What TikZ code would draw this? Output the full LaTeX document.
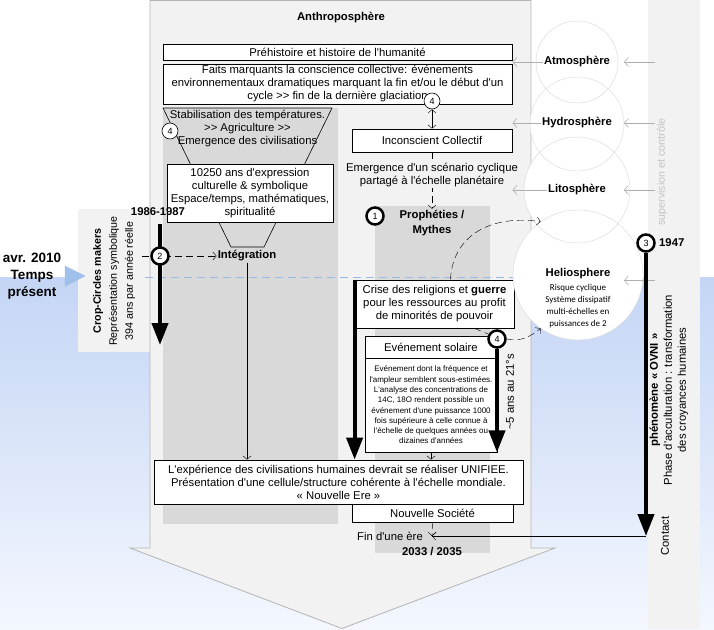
\documentclass[tikz,border=0pt]{standalone}
\usepackage{fontspec}
\setmainfont[Ligatures=TeXOff]{Liberation Sans}
\newfontfamily\calibfont{Carlito}
\usetikzlibrary{arrows.meta}
\definecolor{arrowgrey}{RGB}{242,242,242}
\definecolor{panelgrey}{RGB}{217,217,217}
\definecolor{edgegrey}{RGB}{180,180,180}
\definecolor{ringgrey}{RGB}{215,215,215}
\definecolor{feedgrey}{RGB}{175,175,175}
\definecolor{supvgrey}{RGB}{195,195,195}
\definecolor{skyblue}{RGB}{196,213,245}
\definecolor{paleblue}{RGB}{244,247,254}
\definecolor{presentblue}{RGB}{150,185,230}
\definecolor{nowblue}{RGB}{160,192,236}
\begin{document}
\begin{tikzpicture}[x=1pt,y=-1pt,
  every node/.style={font=\fontsize{11.3}{13}\selectfont,inner sep=1pt},
  txtbox/.style={draw,fill=white,align=center,inner sep=0pt,line width=0.8pt},
  boldlbl/.style={font=\fontsize{11.3}{15.5}\selectfont\bfseries,align=center},
  thinnum/.style={circle,draw,fill=white,inner sep=0pt,minimum size=16pt,line width=0.6pt,font=\fontsize{9}{9}\selectfont},
  thicknum/.style={circle,draw,fill=white,inner sep=0pt,minimum size=17pt,line width=2.5pt,font=\fontsize{9}{9}\selectfont},
  sphere/.style={circle,fill=white,inner sep=0pt},
  thintip/.style={-{Straight Barb[length=3.5pt,width=8pt]}},
  bigarr/.style={line width=4pt,-{Triangle[length=22pt,width=16pt]}},
  feed/.style={draw=feedgrey,line width=0.6pt,-{Straight Barb[length=4pt,width=9pt]}},
  dashy/.style={dashed,dash pattern=on 7pt off 4pt}
]
\useasboundingbox (0,0) rectangle (714,629);
\shade[top color=skyblue,bottom color=paleblue] (0,277) rectangle (714,629);
\node[fill=arrowgrey,minimum width=52pt,minimum height=629pt,inner sep=0pt] (supv) at (674,314.5) {};
\node[fill=arrowgrey,minimum width=72pt,minimum height=143pt,inner sep=0pt] (croppanel) at (114,280.5) {};
\filldraw[fill=arrowgrey,draw=edgegrey,line width=0.8pt] (150,0.5) -- (531,0.5) -- (531,548) -- (555,548) -- (342,628.5) -- (130,548) -- (150,548) -- cycle;
\fill[panelgrey] (163,108) rectangle (338,524);
\fill[panelgrey] (375,206) rectangle (490,553);
\coordinate (nowL) at (145,277);
\coordinate (nowR) at (520,277);
\draw[presentblue,dashed,dash pattern=on 8pt off 5pt] (nowL) -- (nowR);

\node[boldlbl] (anthro) at (341,18) {Anthroposphère};
\node[txtbox,minimum width=349pt,minimum height=16pt] (prehist) at (337.5,52) {Préhistoire et histoire de l'humanité};
\node[txtbox,minimum width=349pt,minimum height=40pt] (faits) at (337.5,84) {Faits marquants la conscience collective: événements\\environnementaux dramatiques marquant la fin et/ou le début d'un\\cycle >> fin de la dernière glaciation};
\draw[line width=0.6pt] (163,108) -- (332,108) -- (264,247) -- (231,247) -- cycle;
\node[align=center] (stabil) at (247.5,129) {Stabilisation des températures.\\>> Agriculture >>\\Emergence des civilisations};
\node[thinnum] (fourL) at (170,131) {4};
\node[txtbox,minimum width=166pt,minimum height=58pt] (expr) at (250,193) {10250 ans d'expression\\culturelle \& symbolique\\Espace/temps,  mathématiques,\\spiritualité};
\node[boldlbl] (integ) at (247,256) {Intégration};
\node[txtbox,minimum width=369pt,minimum height=44pt] (expbox) at (338.5,482) {L'expérience des civilisations humaines devrait se réaliser UNIFIEE.\\Présentation d'une cellule/structure cohérente à l'échelle mondiale.\\« Nouvelle Ere »};
\node[txtbox,minimum width=161pt,minimum height=18pt] (nouv) at (432.5,513) {Nouvelle Société};
\draw[thintip] (integ.south) -- (integ.south |- expbox.north);

\node[boldlbl] (y1986) at (158,212) {1986-1987};
\coordinate (ccTop) at (160,224);
\coordinate (ccEnd) at (160,345);
\draw[bigarr] (ccTop) -- (ccEnd);
\coordinate (twoL) at (142,256);
\draw[dashy,thintip] (twoL) -- (integ.west);
\node[thicknum] (two) at (160,256) {2};
\node[rotate=90,align=center,font=\fontsize{10.7}{16}\selectfont] (croptxt) at (114,281) {\textbf{Crop-Circles makers}\\Représentation symbolique\\394 ans par année réelle};
\node[align=center,font=\fontsize{13.5}{17}\selectfont\bfseries] (present) at (32,276) {avr. 2010\\Temps\\présent};
\filldraw[fill=nowblue,draw=presentblue] (65,266) -- (85,276) -- (65,286) -- cycle;

\node[txtbox,minimum width=160pt,minimum height=23pt] (incon) at (432,140.5) {Inconscient Collectif};
\node[thinnum] (fourT) at (432,101) {4};
\draw[{Straight Barb[length=3.5pt,width=8pt]}-{Straight Barb[length=3.5pt,width=8pt]}] (fourT.south) -- (incon.north);
\node[boldlbl] (proph) at (432,223) {Prophéties /\\Mythes};
\draw[dashy,thintip] (incon.south) -- (proph.north);
\node[align=center,fill=arrowgrey] (emerg) at (432,175) {Emergence d'un scénario cyclique\\partagé à l'échelle planétaire};
\node[thicknum] (one) at (375,216) {1};

\node[txtbox,minimum width=159pt,minimum height=48pt] (crise) at (434.5,304) {Crise des religions et \textbf{guerre}\\pour les ressources au profit\\de minorités de pouvoir};
\draw[bigarr] (crise.north west) -- (crise.north west |- expbox.north);
\node[txtbox,minimum width=132pt,minimum height=22pt] (solhead) at (431,347) {Evénement solaire};
\node[txtbox,minimum width=132pt,minimum height=94pt,font=\fontsize{8}{10.3}\selectfont] (solbody) at (431,405) {Evénement dont la fréquence et\\l'ampleur semblent sous-estimées.\\L'analyse des concentrations de\\14C, 18O rendent possible un\\événement d'une puissance 1000\\fois supérieure à celle connue à\\l'échelle de quelques années ou\\dizaines d'années};
\draw[thintip] (solbody.south) -- (solbody.south |- expbox.north);
\node[thicknum] (fourR) at (497,339) {4};
\draw[bigarr] (fourR.south) -- (fourR |- solbody.south);
\node[rotate=90] (cinq) at (510,392) {\textasciitilde5 ans au 21°s};

\coordinate (finpt) at (432,536);
\node[anchor=east] (finere) at (424,536) {Fin d'une ère};
\draw[dashy,thintip] (nouv.south) -- (finpt);
\node[boldlbl] (yr2033) at (432,552) {2033 / 2035};

\node[sphere,minimum size=130pt] (helio) at (578,275) {};
\node[sphere,minimum size=106pt] (litho) at (577,190) {};
\node[sphere,minimum size=94pt] (hydro) at (577,124) {};
\node[sphere,minimum size=82pt] (atmo) at (577,62) {};
\draw[ringgrey] (helio.center) circle (65) (litho.center) circle (53) (hydro.center) circle (47) (atmo.center) circle (41);
\node[boldlbl] (atmolbl) at (577,62) {Atmosphère};
\node[boldlbl] (hydrolbl) at (577,123) {Hydrosphère};
\node[boldlbl] (litholbl) at (577,190) {Litosphère};
\node[boldlbl] (heliolbl) at (578,274) {Heliosphere};
\node[font=\calibfont\fontsize{9}{12}\selectfont,align=center] (heliotxt) at (578,306) {Risque cyclique\\Système dissipatif\\multi-échelles en\\puissances de 2};
\draw[feed] (atmolbl.west) -- (atmolbl.west -| faits.east);
\draw[feed] (hydrolbl.west) -- (hydrolbl.west -| faits.east);
\draw[feed] (litholbl.west) -- (litholbl.west -| faits.east);
\coordinate (feedtip) at (624,0);
\draw[feed] ([xshift=7pt]supv.west |- atmolbl) -- (feedtip |- atmolbl);
\draw[feed] ([xshift=7pt]supv.west |- hydrolbl) -- (feedtip |- hydrolbl);
\draw[feed] ([xshift=7pt]supv.west |- litholbl) -- (feedtip |- litholbl);
\draw[feed] ([xshift=7pt]supv.west |- heliolbl.south) -- (feedtip |- heliolbl.south);
\node[rotate=90,text=supvgrey,font=\fontsize{10.7}{13}\selectfont] (supvtxt) at (662,172) {supervision et contrôle};

\draw[dashy] ([xshift=-40pt]crise.south east) -- (fourR.150);
\draw[dashy,thintip] (fourR.east) .. controls (520,342) and (530,337) .. (helio.235);
\draw[dashy,thintip] ([xshift=16pt]crise.north) .. controls (452,240) and (485,214) .. (helio.125);

\node[thicknum] (three) at (646,243) {3};
\node[boldlbl,anchor=west] (y1947) at (658,243) {1947};
\coordinate (contactpt) at (646,536);
\draw[bigarr] (three.south) -- (contactpt);
\draw[thintip] (contactpt) -- (finpt);
\node[rotate=90,align=center,font=\fontsize{11.3}{14}\selectfont] (ovni) at (669,390) {\textbf{phénomène « OVNI »}\\Phase d'acculturation : transformation\\des croyances humaines};
\node[rotate=90] (contact) at (665,536) {Contact};
\end{tikzpicture}
\end{document}
